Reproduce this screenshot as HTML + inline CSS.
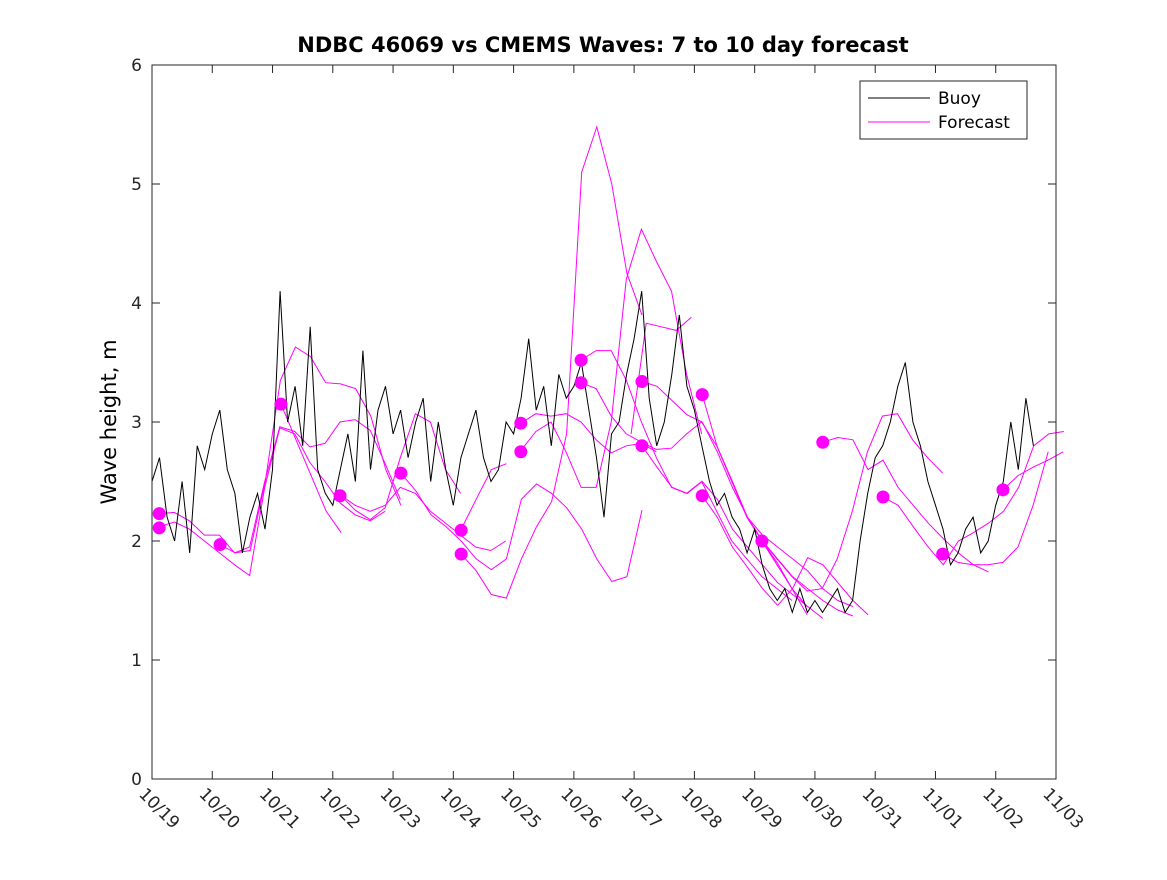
<!DOCTYPE html>
<html><head><meta charset="utf-8"><style>
body{margin:0;background:#fff;font-family:"Liberation Sans","DejaVu Sans",sans-serif}
</style></head><body>
<svg id="chart" width="1167" height="875" xmlns="http://www.w3.org/2000/svg">
<rect x="0" y="0" width="1167" height="875" fill="#fff"/>
<text x="603" y="52" text-anchor="middle" font-size="21" font-weight="bold" font-family="DejaVu Sans, sans-serif">NDBC 46069 vs CMEMS Waves: 7 to 10 day forecast</text>
<text transform="translate(116,422) rotate(-90)" text-anchor="middle" font-size="21" font-family="DejaVu Sans, sans-serif">Wave height, m</text>
<g id="forecasts"></g>
<g id="buoy"></g>
<g id="dots"></g>
<rect x="152" y="65" width="904" height="714" fill="none" stroke="#262626" stroke-width="1"/>
<g id="axes"></g>
<g>
<rect x="860" y="81" width="167" height="58" fill="#fff" stroke="#262626"/>
<line x1="868" y1="98" x2="930" y2="98" stroke="#000"/>
<text x="938" y="104" font-size="17" font-family="DejaVu Sans, sans-serif">Buoy</text>
<line x1="868" y1="122" x2="930" y2="122" stroke="#f0f"/>
<text x="938" y="128" font-size="17" font-family="DejaVu Sans, sans-serif">Forecast</text>
</g>
</svg>
<script>
const dateLabels=["10/19","10/20","10/21","10/22","10/23","10/24","10/25","10/26","10/27","10/28","10/29","10/30","10/31","11/01","11/02","11/03"];
const yTicks=[0,1,2,3,4,5,6];
const buoyStep=0.125;
const buoyValues=[
2.5,2.7,2.2,2.0,2.5,1.9,2.8,2.6,
2.9,3.1,2.6,2.4,1.9,2.2,2.4,2.1,
2.6,4.1,3.0,3.3,2.8,3.8,2.6,2.4,
2.3,2.6,2.9,2.5,3.6,2.6,3.1,3.3,
2.9,3.1,2.7,3.0,3.2,2.5,3.0,2.6,
2.3,2.7,2.9,3.1,2.7,2.5,2.6,3.0,
2.9,3.2,3.7,3.1,3.3,2.8,3.4,3.2,
3.3,3.5,3.1,2.7,2.2,2.9,3.0,3.4,
3.7,4.1,3.2,2.8,3.0,3.4,3.9,3.3,
3.1,2.8,2.5,2.3,2.4,2.2,2.1,1.9,
2.1,1.8,1.6,1.5,1.6,1.4,1.6,1.4,
1.5,1.4,1.5,1.6,1.4,1.5,2.0,2.4,
2.7,2.8,3.0,3.3,3.5,3.0,2.8,2.5,
2.3,2.1,1.8,1.9,2.1,2.2,1.9,2.0,
2.3,2.5,3.0,2.6,3.2,2.8];
const fcStep=0.25;
const fcStarts=[0.12,0.12,1.13,2.14,3.12,3.12,4.13,5.13,5.13,6.12,6.12,7.12,7.12,7.95,8.13,8.13,9.13,9.13,10.12,10.12,11.13,12.13,13.12,14.12];
const fcValues=[
[2.23,2.24,2.17,2.05,2.05,1.9,1.95,2.5,2.96,2.92,2.79,2.82,3.0,3.02,2.93,2.65,2.35],
[2.12,2.16,2.1,2.0,1.9,1.8,1.71,2.45,2.95,2.9,2.66,2.5,2.32,2.22,2.17,2.25],
[1.97,1.9,1.92,2.5,3.35,3.63,3.55,3.33,3.32,3.28,3.05,2.6,2.3],
[3.15,2.85,2.55,2.25,2.07],
[2.39,2.26,2.18,2.28,2.7,3.07,3.0,2.6,2.4],
[2.39,2.3,2.25,2.3,2.45,2.4,2.25,2.15,2.05,1.95,1.92,2.0],
[2.57,2.42,2.22,2.12,2.0,1.85,1.76,1.85,2.35,2.48,2.4,2.28,2.1,1.85,1.66,1.7,2.26],
[2.1,2.35,2.6,2.65],
[1.89,1.75,1.55,1.52,1.85,2.12,2.33,2.9,5.1,5.48,5.0,4.25,3.9],
[2.99,3.07,3.05,3.07,3.0,2.85,2.74,2.8,2.82,2.75],
[2.76,2.92,3.0,2.75,2.45,2.45,3.0,4.2,4.62,4.35,4.1,3.4,2.9],
[3.52,3.6,3.6,3.35,3.0,2.7,2.45,2.4,2.5,2.25,2.0,1.85,1.7,1.6,1.5],
[3.33,3.28,3.05,2.9,2.83,2.77,2.78,2.9,3.0,2.8,2.5,2.2,2.0,1.8,1.6,1.45],
[2.9,3.83,3.8,3.77,3.88],
[3.34,3.3,3.18,3.06,3.0,2.75,2.45,2.2,2.0,1.85,1.7,1.6,1.5,1.42,1.37],
[2.8,2.62,2.45,2.4,2.5,2.35,2.1,1.95,1.8,1.65,1.55,1.45,1.35],
[3.23,2.79,2.5,2.2,2.05,1.95,1.85,1.75,1.6,1.5,1.45],
[2.38,2.2,1.95,1.78,1.6,1.46,1.6,1.86,1.8,1.65,1.5,1.38],
[2.0,1.85,1.7,1.58,1.6,1.85,2.25,2.75,3.05,3.07,2.85,2.7,2.57],
[2.0,1.82,1.6,1.38],
[2.83,2.87,2.85,2.6,2.68,2.45,2.3,2.15,2.02,1.9,1.8,1.74],
[2.37,2.3,2.12,1.95,1.8,2.0,2.07,2.15,2.25,2.45,2.8,2.9,2.92],
[1.89,1.82,1.8,1.8,1.82,1.95,2.3,2.75],
[2.43,2.55,2.62,2.68,2.75]];
const dotDays=[0.12,0.12,1.13,2.14,3.12,4.13,5.13,5.13,6.12,6.12,7.12,7.12,8.13,8.13,9.13,9.13,10.12,11.13,12.13,13.12,14.12];
const dotValues=[2.23,2.11,1.97,3.15,2.38,2.57,2.09,1.89,2.99,2.75,3.52,3.33,3.34,2.8,3.23,2.38,2.0,2.83,2.37,1.89,2.43];

const NS="http://www.w3.org/2000/svg";
const X0=152,X1=1056,Y0=779,Y1=65;
function xs(d){return X0+(X1-X0)*d/15;}
function ys(v){return Y0-(Y0-Y1)*v/6;}
function mk(t,a,p){const e=document.createElementNS(NS,t);for(const k in a)e.setAttribute(k,a[k]);p.appendChild(e);return e;}
const axes=document.getElementById('axes');
yTicks.forEach(v=>{
  const y=ys(v);
  const l=mk('path',{d:`M${X0},${y}h8M${X1},${y}h-8`,stroke:'#262626'},axes);
  
  
  const t=mk('text',{x:X0-10,y:y+6,'text-anchor':'end','font-size':17,'font-family':'DejaVu Sans, sans-serif',fill:'#262626'},axes);
  t.textContent=v;
  
  
});
dateLabels.forEach((s,i)=>{
  const x=xs(i);
  const l=mk('path',{d:`M${x},${Y0}v-8M${x},${Y1}v8`,stroke:'#262626'},axes);
  
  
  const t=mk('text',{transform:`translate(${x-14},${Y0+16}) rotate(45)`,'font-size':17,'font-family':'DejaVu Sans, sans-serif',fill:'#262626'},axes);
  t.textContent=s;
  
  
});
const fg=document.getElementById('forecasts');
fcValues.forEach((arr,i)=>{
  const pts=arr.map((v,j)=>xs(fcStarts[i]+j*fcStep).toFixed(1)+','+ys(v).toFixed(1)).join(' ');
  const p=mk('polyline',{points:pts,fill:'none',stroke:'#f0f','stroke-width':1},fg);
  
  
});
const bg=document.getElementById('buoy');
const bp=mk('polyline',{points:buoyValues.map((v,j)=>xs(j*buoyStep).toFixed(1)+','+ys(v).toFixed(1)).join(' '),fill:'none',stroke:'#000','stroke-width':1},bg);


const dg=document.getElementById('dots');
dotDays.forEach((d,i)=>{
  const c=mk('circle',{cx:xs(d),cy:ys(dotValues[i]),r:6.5,fill:'#f0f'},dg);
  
  
});
</script>
</body></html>
